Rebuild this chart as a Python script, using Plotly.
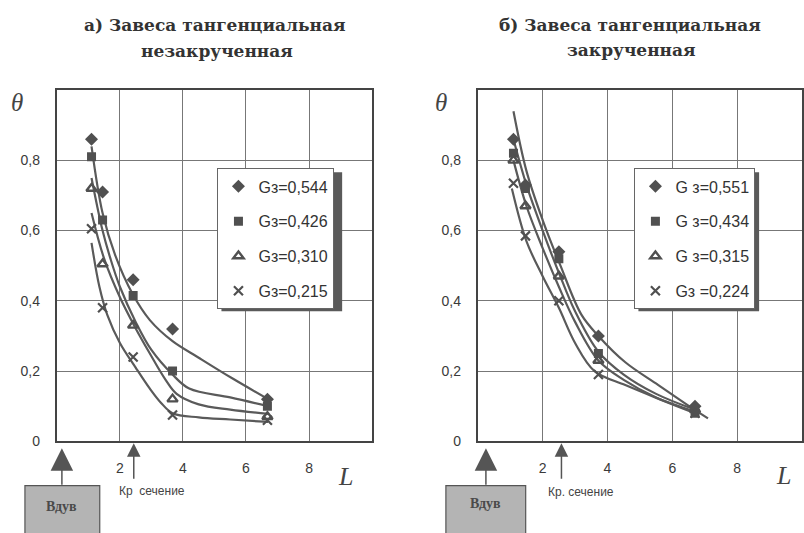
import plotly.graph_objects as go

# ---- data: dimensionless temperature θ versus distance L ----
# a) tangential curtain, non-swirled
left_L = [1.1, 1.45, 2.42, 3.67, 6.68]
left_g544 = [0.86, 0.71, 0.46, 0.32, 0.12]
left_g426 = [0.81, 0.63, 0.415, 0.20, 0.10]
left_g310 = [0.72, 0.505, 0.33, 0.12, 0.07]
left_g215 = [0.605, 0.38, 0.24, 0.075, 0.06]
left_names = ["Gз=0,544", "Gз=0,426", "Gз=0,310", "Gз=0,215"]

# fitted curves, a)
left_fit1_L = [1.1, 1.45, 1.85, 2.4, 2.95, 3.67, 4.5, 5.55, 6.7]
left_fit1_t = [0.84, 0.65, 0.53, 0.42, 0.345, 0.285, 0.238, 0.18, 0.12]
left_fit2_L = [1.1, 1.45, 1.7, 2.0, 2.5, 3.0, 3.67, 4.2, 5.5, 6.7]
left_fit2_t = [0.75, 0.60, 0.52, 0.44, 0.34, 0.26, 0.19, 0.15, 0.125, 0.10]
left_fit3_L = [1.1, 1.5, 2.0, 2.45, 2.95, 3.45, 3.8, 4.5, 5.5, 6.7]
left_fit3_t = [0.65, 0.52, 0.41, 0.33, 0.25, 0.175, 0.135, 0.105, 0.09, 0.078]
left_fit4_L = [1.1, 1.35, 1.6, 2.0, 2.5, 2.95, 3.3, 3.67, 4.5, 5.5, 6.7]
left_fit4_t = [0.565, 0.44, 0.36, 0.28, 0.21, 0.15, 0.11, 0.08, 0.068, 0.062, 0.055]

# б) tangential curtain, swirled
right_L = [1.1, 1.47, 2.5, 3.72, 6.7]
right_g551 = [0.86, 0.73, 0.54, 0.30, 0.10]
right_g434 = [0.82, 0.72, 0.52, 0.25, 0.08]
right_g315 = [0.80, 0.67, 0.47, 0.23, 0.09]
right_g224 = [0.735, 0.585, 0.40, 0.19, 0.08]
right_names = ["G з=0,551", "G з=0,434", "G з=0,315", "Gз =0,224"]

# fitted curves, б)
right_fit1_L = [1.1, 1.5, 2.0, 2.55, 3.2, 3.72, 4.55, 5.57, 6.6, 7.1]
right_fit1_t = [0.94, 0.77, 0.63, 0.50, 0.36, 0.30, 0.225, 0.16, 0.095, 0.065]
right_fit2_L = [1.1, 1.5, 2.0, 2.5, 3.0, 3.72, 4.5, 5.5, 6.7]
right_fit2_t = [0.86, 0.73, 0.60, 0.48, 0.37, 0.255, 0.19, 0.135, 0.09]
right_fit3_L = [1.1, 1.5, 2.0, 2.5, 3.0, 3.72, 4.5, 5.5, 6.7]
right_fit3_t = [0.80, 0.67, 0.55, 0.44, 0.34, 0.23, 0.175, 0.125, 0.085]
right_fit4_L = [1.05, 1.5, 2.0, 2.5, 3.0, 3.6, 4.55, 5.6, 6.7]
right_fit4_t = [0.72, 0.57, 0.47, 0.38, 0.28, 0.20, 0.16, 0.12, 0.08]

y_tickvals = [0, 0.2, 0.4, 0.6, 0.8]
y_ticktext = ["0", "0,2", "0,4", "0,6", "0,8"]
x_tickvals = [2, 4, 6, 8]
x_ticktext = ["2", "4", "6", "8"]

# ---- figure geometry (pixels -> paper) ----
W, H = 804, 533


def px(x):
    return x / W


def py(y):
    return 1 - y / H


INK = "#505050"
LINE = "#5a5a5a"
symbols = [
    dict(symbol="diamond", size=10, color=INK),
    dict(symbol="square", size=9, color=INK),
    dict(symbol="triangle-up-open", size=9, color=INK, line=dict(width=2.4, color=INK)),
    dict(symbol="x-thin", size=9, color=INK, line=dict(width=2.2, color=INK)),
]

fig = go.Figure()

left_series = [left_g544, left_g426, left_g310, left_g215]
left_fits = [(left_fit1_L, left_fit1_t), (left_fit2_L, left_fit2_t),
             (left_fit3_L, left_fit3_t), (left_fit4_L, left_fit4_t)]
right_series = [right_g551, right_g434, right_g315, right_g224]
right_fits = [(right_fit1_L, right_fit1_t), (right_fit2_L, right_fit2_t),
              (right_fit3_L, right_fit3_t), (right_fit4_L, right_fit4_t)]

for fx, ft in left_fits:
    fig.add_trace(go.Scatter(x=fx, y=ft, mode="lines", xaxis="x", yaxis="y",
                             line=dict(color=LINE, width=2.2, shape="spline", smoothing=1.0),
                             showlegend=False, hoverinfo="skip"))
for i, vals in enumerate(left_series):
    fig.add_trace(go.Scatter(x=left_L, y=vals, mode="markers", name=left_names[i],
                             xaxis="x", yaxis="y", marker=symbols[i],
                             legend="legend", legendgroup=f"a{i}"))

for fx, ft in right_fits:
    fig.add_trace(go.Scatter(x=fx, y=ft, mode="lines", xaxis="x2", yaxis="y2",
                             line=dict(color=LINE, width=2.2, shape="spline", smoothing=1.0),
                             showlegend=False, hoverinfo="skip"))
for i, vals in enumerate(right_series):
    fig.add_trace(go.Scatter(x=right_L, y=vals, mode="markers", name=right_names[i],
                             xaxis="x2", yaxis="y2", marker=symbols[i],
                             legend="legend2", legendgroup=f"b{i}"))

tick_font = dict(family="Liberation Sans, Arial, sans-serif", size=14, color="#3a3a3a")
xaxis_common = dict(range=[0, 10], tickvals=x_tickvals, ticktext=x_ticktext,
                    showgrid=True, gridcolor="#777777", gridwidth=1, zeroline=False,
                    showline=True, mirror=True, linecolor="#444444", linewidth=2,
                    ticks="", tickfont=tick_font, ticklabelstandoff=13, fixedrange=True)
yaxis_common = dict(range=[0, 1.0], tickvals=y_tickvals, ticktext=y_ticktext,
                    showgrid=True, gridcolor="#777777", gridwidth=1, zeroline=False,
                    showline=True, mirror=True, linecolor="#444444", linewidth=2,
                    ticks="", tickfont=tick_font, ticklabelstandoff=12, fixedrange=True)

y_dom = [py(448), py(91.5)]

legend_common = dict(bgcolor="white", bordercolor="#666666", borderwidth=1,
                     font=dict(family="Liberation Sans, Arial, sans-serif", size=16, color="#333333"),
                     tracegroupgap=11, xanchor="left", yanchor="top")

title_font = dict(family="DejaVu Serif, serif", size=17, color="#333333")
serif_it = dict(family="Liberation Serif, Times New Roman, serif", size=26, color="#444444")
small_font = dict(family="Liberation Sans, Arial, sans-serif", size=12, color="#444444")

annotations = [
    dict(text="<b>а) Завеса тангенциальная</b>", x=px(216), y=py(25)),
    dict(text="<b>незакрученная</b>", x=px(218), y=py(52)),
    dict(text="<b>б) Завеса тангенциальная</b>", x=px(632), y=py(25)),
    dict(text="<b>закрученная</b>", x=px(633), y=py(51)),
]
for a in annotations:
    a.update(xref="paper", yref="paper", showarrow=False, font=title_font,
             xanchor="center", yanchor="middle")

labels = [
    dict(text="<i>θ</i>", x=px(17), y=py(104), font=dict(serif_it, size=25)),
    dict(text="<i>θ</i>", x=px(442), y=py(104), font=dict(serif_it, size=25)),
    dict(text="<i>L</i>", x=px(346), y=py(484), font=serif_it),
    dict(text="<i>L</i>", x=px(785), y=py(483), font=serif_it),
    dict(text="Кр  сечение", x=px(152), y=py(498), font=small_font),
    dict(text="Кр. сечение", x=px(582), y=py(500), font=small_font),
    dict(text="<b>Вдув</b>", x=px(62), y=py(514),
         font=dict(family="Liberation Serif, serif", size=14, color="#4a4a4a")),
    dict(text="<b>Вдув</b>", x=px(487), y=py(511),
         font=dict(family="Liberation Serif, serif", size=14, color="#4a4a4a")),
]
for a in labels:
    a.update(xref="paper", yref="paper", showarrow=False, xanchor="center", yanchor="middle")
annotations += labels

# injection and critical-section arrows
arrows = [
    dict(x=0.16, xref="x", y=py(455), ay=38, arrowsize=3.0),
    dict(x=2.44, xref="x", y=py(450), ay=37, arrowsize=1.8),
    dict(x=0.25, xref="x2", y=py(455), ay=38, arrowsize=3.0),
    dict(x=2.58, xref="x2", y=py(450), ay=37, arrowsize=1.8),
]
for a in arrows:
    a.update(yref="paper", text="", showarrow=True, ax=0, axref="pixel", ayref="pixel",
             arrowhead=2, arrowwidth=1.5, arrowcolor="#555555", standoff=0)
annotations += arrows

LEG_W, LEG_H = 121, 141
left_leg = (218, 171)
right_leg = (636, 171)

shapes = [
    # legend shadows
    dict(type="rect", xref="paper", yref="paper",
         x0=px(left_leg[0] + 4), x1=px(left_leg[0] + LEG_W + 4),
         y0=py(left_leg[1] + LEG_H + 4), y1=py(left_leg[1] + 4),
         fillcolor="#5a5a5a", line=dict(width=0), layer="above"),
    dict(type="rect", xref="paper", yref="paper",
         x0=px(right_leg[0] + 4), x1=px(right_leg[0] + LEG_W + 4),
         y0=py(right_leg[1] + LEG_H + 4), y1=py(right_leg[1] + 4),
         fillcolor="#5a5a5a", line=dict(width=0), layer="above"),
    # injection boxes
    dict(type="rect", xref="paper", yref="paper", x0=px(25), x1=px(100), y0=py(545), y1=py(493),
         fillcolor="#b4b4b4", line=dict(color="#555555", width=1.2)),
    dict(type="rect", xref="paper", yref="paper", x0=px(447), x1=px(527), y0=py(545), y1=py(493),
         fillcolor="#b4b4b4", line=dict(color="#555555", width=1.2)),
]

fig.update_layout(
    width=W, height=H,
    margin=dict(l=0, r=0, t=0, b=0),
    paper_bgcolor="white", plot_bgcolor="white",
    xaxis=dict(xaxis_common, domain=[px(57), px(373)], anchor="y"),
    yaxis=dict(yaxis_common, domain=y_dom, anchor="x"),
    xaxis2=dict(xaxis_common, domain=[px(479), 1.0], anchor="y2"),
    yaxis2=dict(yaxis_common, domain=y_dom, anchor="x2"),
    legend=dict(legend_common, x=px(left_leg[0]), y=py(left_leg[1])),
    legend2=dict(legend_common, x=px(right_leg[0]), y=py(right_leg[1])),
    annotations=annotations,
    shapes=shapes,
)

fig.write_html("out.html")
